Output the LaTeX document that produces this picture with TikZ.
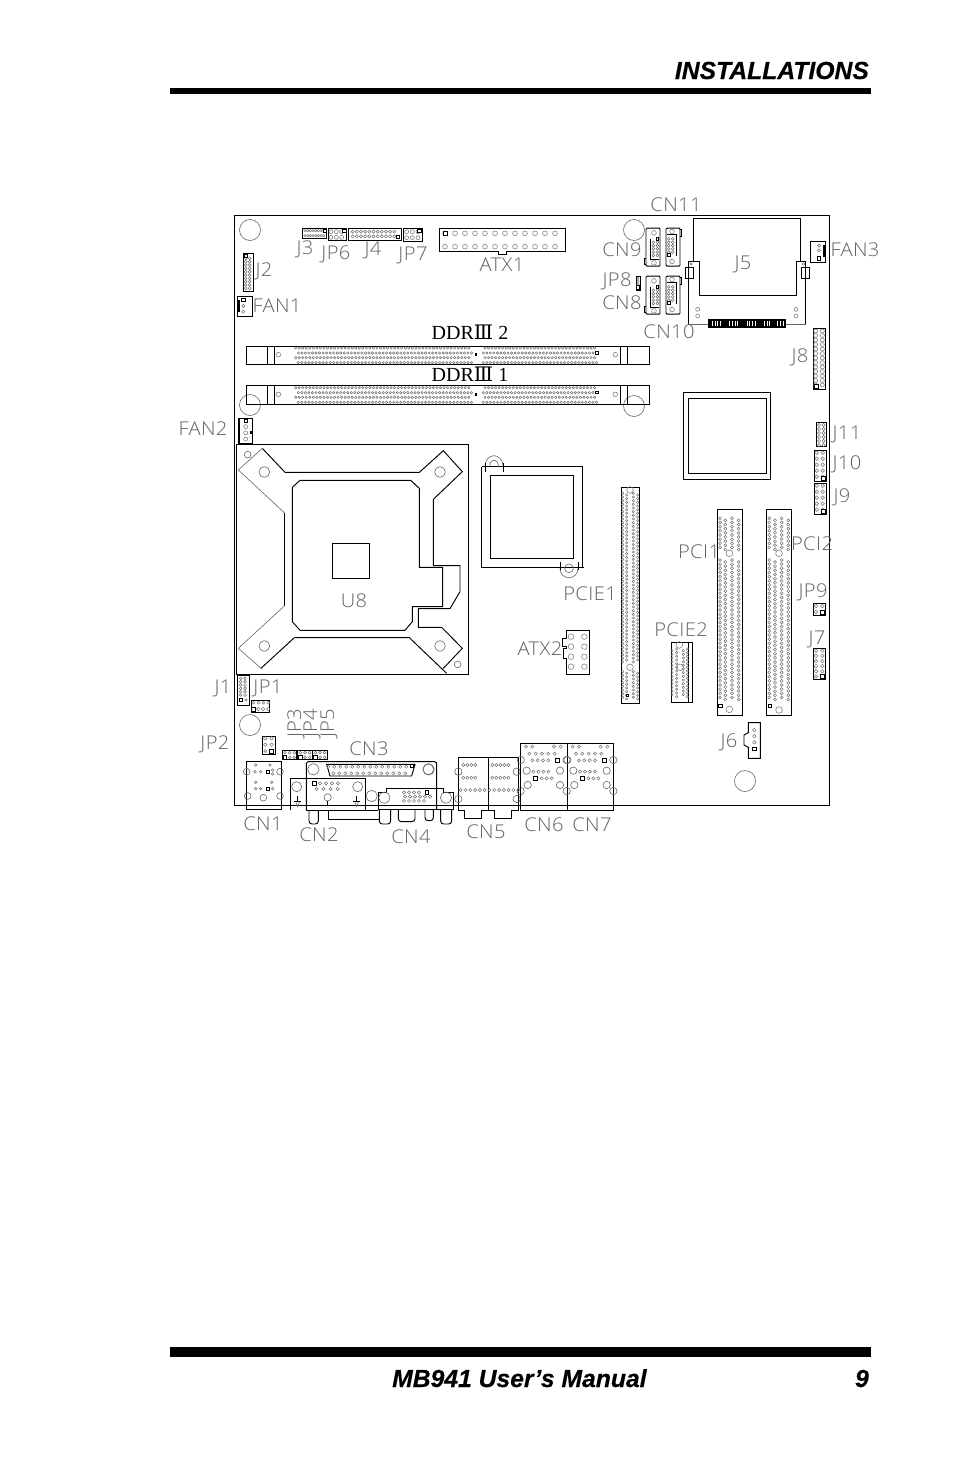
\documentclass[tikz,border=0pt]{standalone}
\usepackage{fontspec}
\setmainfont{Liberation Sans}
\newfontfamily\headfont[BoldItalicFeatures={FakeBold=0.4}]{Liberation Sans}
\newfontfamily\cadfont[LetterSpace=2,FakeStretch=1.06]{Open Sans Light}
\newfontfamily\ddrfont{Liberation Serif}
\newfontfamily\romfont{DejaVu Serif}
\newcommand\pingrid[7]{\foreach \i in {1,...,#5}{\foreach \j in {1,...,#6}{\draw[pin] ({#1+(\i-1)*(#3)},{#2+(\j-1)*(#4)}) circle ({#7*1.2});}}}
\newcommand\psq[3]{\draw[sq] ({#1-#3},{#2-#3}) rectangle ({#1+#3},{#2+#3});}
\newcommand\hole[3]{\draw[thinl] (#1,#2) circle (#3);}
\newcommand\lab[4]{\node[labelt] (#1) at (#2,#3) {#4};}
\newcommand\semi[5]{\draw[thinl] ({#1-#3},#2) .. controls ({#1-#3},{#2+#5*1.33*#4}) and ({#1+#3},{#2+#5*1.33*#4}) .. ({#1+#3},#2);}
\newcommand\tabpath[4]{\draw[ln,rounded corners=3pt] (#1,#3)--(#1,#4)--(#2,#4)--(#2,#3);}
\newcommand\satac[3]{\begin{scope}[shift={(#1,#2)},rotate=#3]
\draw[ln] (-18,-57)--(18,-57)--(21,-54)--(21,54)--(18,57)--(-18,57)--(-21,54)--(-21,-54)--cycle;
\draw[ln] (-9,-25)--(-9,38)--(19,38);
\draw[ln] (-21,33)--(-26,33)--(-26,53)--(-21,53);
\draw[pin] (3,-43) circle (7); \draw[pin] (3,47) circle (7);
\pingrid{1}{-15}{12}{10}{2}{5}{3.5}
\psq{13}{-24}{4}
\end{scope}}
\tikzset{
 ln/.style={draw=black,line width=0.95pt},
 pin/.style={draw=black!55,line width=0.5pt},
 thinl/.style={draw=black!60,line width=0.6pt},
 sq/.style={draw=black,line width=1pt,fill=white},
 labelt/.style={font=\cadfont\fontsize{19}{19}\selectfont,text=black!62,inner sep=0pt},
 ddrt/.style={font=\ddrfont\fontsize{20}{20}\selectfont,text=black,inner sep=0pt},
 head/.style={font=\headfont\bfseries\itshape\fontsize{24.7}{24.7}\selectfont,text=black,inner sep=0pt},
 za/.style={shift={(225,190)},scale=1/3},
 zb/.style={shift={(550,190)},scale=1/3},
 zc/.style={shift={(175,410)},scale=1/3},
 zd/.style={shift={(470,380)},scale=1/3},
 ze/.style={shift={(660,410)},scale=1/3},
 zf/.style={shift={(190,670)},scale=1/3},
 zg/.style={shift={(370,730)},scale=1/3},
}
\begin{document}
\begin{tikzpicture}[x=1pt,y=-1pt]
\useasboundingbox (0,0) rectangle (954,1475);
\fill[white] (0,0) rectangle (954,1475);
% header and footer
\node[head,anchor=base east] (title) at (869,79) {INSTALLATIONS};
\fill[black] (170,88) rectangle (871,94);
\fill[black] (170,1347) rectangle (871,1357);
\node[head,anchor=base west] (manual) at (392,1387) {MB941 User’s Manual};
\node[head,anchor=base east] (page) at (869,1387) {9};
% board
\draw[ln] (234.5,215) rectangle (829.5,805.5);
\hole{250}{230}{10.5}\hole{634}{230}{10.5}\hole{250}{405}{10.5}\hole{634}{406}{10.5}\hole{745}{781}{10.5}\hole{250}{725}{10.5}
% ---- top-left
\begin{scope}[za]
\draw[ln] (232,115) rectangle (305,145); \pingrid{240}{122}{8}{15}{8}{2}{3}\psq{299}{122}{4}
\draw[ln] (310,115) rectangle (365,150); \pingrid{318}{125}{16}{17}{3}{2}{5}\psq{358}{123}{5}
\draw[ln] (370,115)--(530,115)--(530,150)--(370,150)--cycle; \pingrid{383}{125}{12.5}{14}{11}{2}{4}\psq{518}{140}{5}
\draw[ln] (535,115) rectangle (592,153); \pingrid{545}{125}{17}{18}{3}{2}{5}\psq{583}{123}{5}
\draw[ln] (643,114)--(1020,114)--(1020,185)--(845,185)--(845,193)--(820,193)--(820,185)--(643,185)--cycle;
\pingrid{660}{130}{30}{0}{12}{1}{6}\pingrid{660}{170}{30}{0}{12}{1}{6}\psq{662}{130}{6}
\draw[ln] (55,190) rectangle (85,305); \pingrid{62}{205}{12}{10}{2}{10}{3.5}\psq{62}{197}{5}
\draw[ln] (38,320) rectangle (83,380); \fill[black] (38,330) rectangle (45,365);
\psq{55}{330}{5}\pingrid{55}{348}{0}{17}{1}{2}{4}
% DDR
\foreach \yy in {468,587}{
 \draw[ln] (64,\yy) rectangle (1273,{\yy+55});
 \draw[ln] (128,\yy)--(128,{\yy+55}); \draw[ln] (148,\yy)--(148,{\yy+55});
 \draw[ln] (1186,\yy)--(1186,{\yy+55}); \draw[ln] (1206,\yy)--(1206,{\yy+55});
 \draw[pin] (160,{\yy+26}) circle (7); \draw[pin] (1171,{\yy+26}) circle (7);
 \pingrid{212}{\yy+6}{10.6}{29}{50}{2}{3}
 \pingrid{220}{\yy+21}{10.6}{29}{50}{2}{3}
 \pingrid{780}{\yy+6}{10.6}{29}{32}{2}{3}
 \pingrid{775}{\yy+21}{10.6}{29}{33}{2}{3}
 \fill[black] (750,{\yy+22}) rectangle (756,{\yy+30});
 \psq{1115}{\yy+20}{4}
}
\end{scope}
% ---- top-right
\begin{scope}[zb]
\satac{309}{171.5}{0}\satac{369}{171.5}{180}\satac{309}{315.5}{0}\satac{369}{315.5}{180}
\draw[ln] (258,258) rectangle (271,300); \pingrid{264}{265}{0}{9}{1}{3}{3}\fill[black] (258,286) rectangle (271,300); \fill[white] (261,289) rectangle (268,297);
\draw[ln] (430,213)--(430,85)--(751,85)--(751,213);
\draw[ln] (415,403)--(415,213)--(447,213)--(447,316)--(738,316)--(738,213)--(767,213)--(767,403);
\draw[thinl] (415,403)--(475,403); \draw[thinl] (708,403)--(767,403);
\draw[ln] (407,233) rectangle (430,265); \draw[ln] (755,233) rectangle (777,265);
\foreach \xx in {423,760}{\draw[pin] (\xx,222) circle (4);}
\foreach \xx in {443,738}{\draw[pin] (\xx,358) circle (6);\draw[pin] (\xx,378) circle (6);}
\fill[black] (475,388) rectangle (708,413);
\foreach \xx in {486,494,502,510, 538,546,554,562, 590,598,606,614, 642,650,658, 682,690,698}{\fill[white] (\xx,392) rectangle ({\xx+3},409);}
\draw[ln] (781,155) rectangle (827,218); \fill[black] (819,165) rectangle (827,200);
\pingrid{807}{167}{0}{14}{1}{2}{4}\psq{807}{205}{5}
\draw[ln] (790,415) rectangle (827,598);
\pingrid{797}{423}{20}{13.5}{2}{13}{5}\psq{798}{588}{6}
\end{scope}
% ---- U8
\begin{scope}[zc]
\draw[ln] (184,103) rectangle (881,793);
\draw[ln] (190,25) rectangle (233,100); \fill[black] (190,25) rectangle (195,100);
\psq{212}{33}{5}\pingrid{212}{50}{0}{18.5}{1}{3}{5}\psq{228}{68}{2.5}
\draw[ln] (262,115)--(330,187)--(733,187)--(805,122)--(862,185)--(775,268)--(775,467)--(855,467)--(855,545)--(825,596)--(730,596)--(730,652)--(800,652)--(862,715)--(805,775);
\draw[ln] (358,683)--(703,683)--(815,790);
\draw[ln] (358,683)--(258,775);
\draw[thinl] (262,115)--(190,180)--(328,308); \draw[ln] (328,308)--(328,588); \draw[thinl] (328,588)--(190,715)--(262,778);
\draw[ln] (375,211)--(707,211)--(733,235)--(733,472)--(803,472)--(803,590)--(712,590)--(712,635)--(690,661)--(375,661)--(352,635)--(352,232)--cycle;
\draw[ln] (472,400) rectangle (583,505);
\foreach \cx/\cy/\rr in {218/134/10,268/186/16,795/186/16,268/708/16,795/708/16,848/763/10}{\draw[thinl] (\cx,\cy) circle (\rr);}
\end{scope}
% ---- chip, PCIE, ATX2
\begin{scope}[zd]
\draw[ln] (35,260)--(338,260)--(338,562); \draw[ln] (35,260)--(35,562)--(342,562);
\draw[ln] (62,287) rectangle (310,535);
\semi{72}{260}{27}{33}{-1}
\semi{72}{260}{13}{20}{-1}
\draw[ln] (45,250)--(45,275); \draw[ln] (100,250)--(100,275);
\draw[thinl] (297,565) circle (13);
\semi{297}{565}{27}{28}{1}
\draw[ln] (272,545)--(272,570); \draw[ln] (325,545)--(325,570);
\draw[ln] (640,38) rectangle (901,299);
\draw[ln] (655,55) rectangle (888,280);
\draw[ln] (454,322) rectangle (508,970);
\pingrid{458}{340}{32}{11}{2}{47}{3}\pingrid{470}{345}{33}{11}{2}{46}{3}
\pingrid{458}{875}{32}{11}{2}{8}{3}\pingrid{470}{880}{33}{11}{2}{8}{3}
\draw[pin] (480,330) circle (10); \draw[pin] (480,862) circle (10); \psq{473}{946}{3}
\draw[ln] (604,787) rectangle (667,967); \draw[ln] (655,787)--(655,967);
\pingrid{606}{812}{34}{11}{2}{13}{3}\pingrid{620}{807}{32}{11}{2}{14}{3}
\draw[pin] (628,795) circle (10); \draw[pin] (630,862) circle (10);
\draw[ln] (289,752)--(358,752)--(358,883)--(289,883)--(289,835)--(279,835)--(279,805)--(289,805)--(289,800)--(278,800)--(278,775)--(289,775)--cycle;
\pingrid{303}{770}{40}{30}{2}{4}{7}
\end{scope}
% ---- right side
\begin{scope}[ze]
\draw[ln] (172,298) rectangle (248,915); \draw[ln] (320,298) rectangle (394,915);
\pingrid{180}{325}{36}{12.5}{2}{8}{3.8}\pingrid{196}{331}{40}{12.5}{2}{8}{3.8}
\pingrid{180}{450}{36}{12.5}{2}{34}{3.8}\pingrid{196}{456}{40}{12.5}{2}{34}{3.8}
\pingrid{328}{325}{37}{12.5}{2}{8}{3.8}\pingrid{345}{331}{40}{12.5}{2}{8}{3.8}
\pingrid{328}{450}{37}{12.5}{2}{34}{3.8}\pingrid{345}{456}{40}{12.5}{2}{34}{3.8}
\draw[pin] (208,430) circle (10); \draw[pin] (208,898) circle (10);
\draw[pin] (357,430) circle (10); \draw[pin] (357,900) circle (10);
\psq{181}{887}{5}\psq{330}{887}{4}
\draw[ln] (469,38) rectangle (498,110); \pingrid{477}{45}{14}{12}{2}{6}{4}
\draw[ln] (463,122) rectangle (498,214); \pingrid{470}{128}{18}{18}{2}{5}{4.5}\psq{490}{204}{6}
\draw[ln] (463,220) rectangle (498,313); \pingrid{470}{227}{18}{18}{2}{5}{4.5}\psq{490}{304}{6}
\draw[ln] (460,581) rectangle (496,615); \pingrid{468}{588}{19}{18}{2}{2}{4.5}\psq{487}{606}{6}
\draw[ln] (460,716) rectangle (496,807); \pingrid{468}{722}{19}{15.5}{2}{6}{4.5}\psq{487}{798}{6}
\draw[ln] (265,938)--(301,938)--(301,1045)--(265,1045)--(265,1012)--(252,1005)--(252,975)--(265,968)--cycle;
\pingrid{283}{960}{0}{18.5}{1}{3}{4.5}\psq{283}{1017}{5}
\end{scope}
% ---- bottom-left
\begin{scope}[zf]
\draw[ln] (142,15) rectangle (178,107); \pingrid{152}{25}{13}{10}{2}{6}{3.5}\psq{153}{90}{5}\draw[pin] (168,90) circle (4);
\draw[ln] (183,92) rectangle (238,127); \pingrid{190}{98}{15}{0}{4}{1}{3.5}\pingrid{205}{117}{15}{0}{3}{1}{4.5}\psq{190}{118}{6}
\draw[ln] (218,198) rectangle (257,252); \pingrid{226}{205}{19}{19}{2}{2}{4.5}\draw[pin] (226,243) circle (4.5);\psq{245}{243}{6}
\foreach \xx in {277,323,368}{
 \draw[ln] (\xx,242) rectangle ({\xx+43},268);
 \pingrid{\xx+8}{248}{14}{0}{3}{1}{3.5}\pingrid{\xx+22}{262}{14}{0}{2}{1}{3.5}\psq{\xx+8}{262}{5}}
% CN1
\draw[ln] (169,273) rectangle (275,418);
\foreach \cx/\cy in {170/305,270/305,173/378,270/378,220/383}{\draw[thinl] (\cx,\cy) circle (10);}
\foreach \cx/\cy in {197/285,240/285,195/305,212/305,248/300,248/312,197/337,245/337,197/356,212/356,248/356}{\draw[pin] (\cx,\cy) circle (4);}
\psq{233}{306}{5}\psq{233}{356}{5}
% CN3
\draw[ln] (349,420)--(349,280)--(354,275)--(735,275)--(740,280)--(740,420);
\draw[ln] (410,283)--(675,283)--(665,318)--(420,318)--cycle;
\pingrid{415}{290}{18}{0}{14}{1}{4}\pingrid{430}{310}{18}{0}{13}{1}{4}\psq{665}{288}{5}
\foreach \cx/\cy in {370/298,716/298,545/378}{\draw[thinl] (\cx,\cy) circle (17);}
% CN2
\draw[ln] (302,420)--(302,325)--(525,325)--(525,420);
\draw[thinl] (320,350) circle (15); \draw[thinl] (503,350) circle (15); \draw[thinl] (413,382) circle (11);
\draw[ln] (413,393)--(413,405);
\foreach \xx in {323,500}{\draw[ln] (\xx,378)--(\xx,395); \draw[ln] ({\xx-10},395)--({\xx+10},395); \draw[thinl] ({\xx-5},397)--(\xx,410)--({\xx+5},397);}
\psq{373}{340}{5}\pingrid{390}{340}{18}{0}{4}{1}{4}\pingrid{380}{357}{21}{0}{4}{1}{4}
\tabpath{357}{385}{420}{462}
\draw[ln] (415,420)--(415,448)--(570,448);
\draw[ln] (349,420)--(565,420);
\end{scope}
% ---- bottom-right
\begin{scope}[zg]
\draw[ln] (25,187)--(50,187)--(50,175)--(220,175)--(220,187)--(250,187)--(250,238)--(25,238)--cycle;
\draw[ln] (198,95)--(198,238);
\draw[thinl] (175,118) circle (16);
\draw[thinl] (43,203) circle (17); \draw[thinl] (228,203) circle (17);
\psq{170}{187}{5}\pingrid{102}{187}{15}{0}{4}{1}{4}\pingrid{105}{200}{15}{0}{6}{1}{4}\pingrid{102}{213}{15}{0}{5}{1}{4}
\tabpath{28}{62}{238}{282}
\tabpath{85}{135}{238}{275}
\tabpath{165}{190}{238}{272}
\tabpath{212}{245}{238}{282}
\draw[ln] (265,82)--(445,82)--(445,242)--(425,242)--(425,265)--(373,265)--(373,242)--(335,242)--(335,265)--(283,265)--(283,242)--(265,242)--cycle;
\draw[ln] (355,82)--(355,242);
\pingrid{280}{105}{12}{38}{4}{2}{4}\pingrid{367}{105}{12}{38}{5}{2}{4}\pingrid{272}{180}{14.4}{0}{13}{1}{4}
\foreach \cx/\cy in {265/125,440/125,265/207,440/207,452/183}{\draw[thinl] (\cx,\cy) circle (11);}
\draw[ln] (451,40) rectangle (731,242); \draw[ln] (592,40)--(592,242);
\foreach \sx in {0,140}{
 \pingrid{468+\sx}{50}{19}{0}{2}{1}{4}\pingrid{552+\sx}{50}{20}{0}{2}{1}{4}
 \pingrid{478+\sx}{71}{19}{0}{5}{1}{4}\pingrid{487+\sx}{91}{16}{0}{4}{1}{4}
 \pingrid{490+\sx}{125}{15}{0}{4}{1}{4}\pingrid{515+\sx}{145}{15}{0}{3}{1}{4}
 \psq{563+\sx}{91}{6}\psq{497+\sx}{145}{6}
 \foreach \cx/\cy in {452/90,590/90,470/122,570/122,473/165,570/165,590/183}{\draw[thinl] ({\cx+\sx},\cy) circle (11);}
}
\end{scope}
% ---- labels
\lab{lj3}{305}{249}{J3}\lab{ljp6}{336}{254}{JP6}\lab{lj4}{373}{250}{J4}\lab{ljp7}{413}{255}{JP7}
\lab{latx1}{502}{265}{ATX1}\lab{lj2}{264}{271}{J2}\lab{lfan1}{277}{306}{FAN1}
\lab{lcn11}{676}{205}{CN11}\lab{lcn9}{622}{250}{CN9}\lab{ljp8}{617}{281}{JP8}\lab{lcn8}{622}{303}{CN8}
\lab{lcn10}{669}{332}{CN10}\lab{lj5}{743}{264}{J5}\lab{lfan3}{855}{250}{FAN3}\lab{lj8}{800}{357}{J8}
\lab{lfan2}{203}{429}{FAN2}\lab{lj11}{847}{434}{J11}\lab{lj10}{847}{464}{J10}\lab{lj9}{842}{497}{J9}
\lab{lu8}{354}{601}{U8}\lab{lpci1}{699}{552}{PCI1}\lab{lpci2}{812}{544}{PCI2}\lab{lpcie1}{590}{594}{PCIE1}
\lab{lpcie2}{681}{630}{PCIE2}\lab{latx2}{540}{649}{ATX2}\lab{ljp9}{813}{592}{JP9}\lab{lj7}{817}{639}{J7}
\lab{lj6}{729}{742}{J6}\lab{lj1}{223}{688}{J1}\lab{ljp1}{268}{688}{JP1}\lab{ljp2}{215}{744}{JP2}
\node[labelt,rotate=90] (ljp3) at (296,723) {JP3};
\node[labelt,rotate=90] (ljp4) at (312,723) {JP4};
\node[labelt,rotate=90] (ljp5) at (329,723) {JP5};
\lab{lcn3}{369}{749}{CN3}\lab{lcn1}{263}{824}{CN1}\lab{lcn2}{319}{835}{CN2}\lab{lcn4}{411}{837}{CN4}
\lab{lcn5}{486}{832}{CN5}\lab{lcn6}{544}{825}{CN6}\lab{lcn7}{592}{825}{CN7}
\node[ddrt] (lddr2) at (470,332) {DDR{\romfont Ⅲ} 2};
\node[ddrt] (lddr1) at (470,374) {DDR{\romfont Ⅲ} 1};
\end{tikzpicture}
\end{document}
